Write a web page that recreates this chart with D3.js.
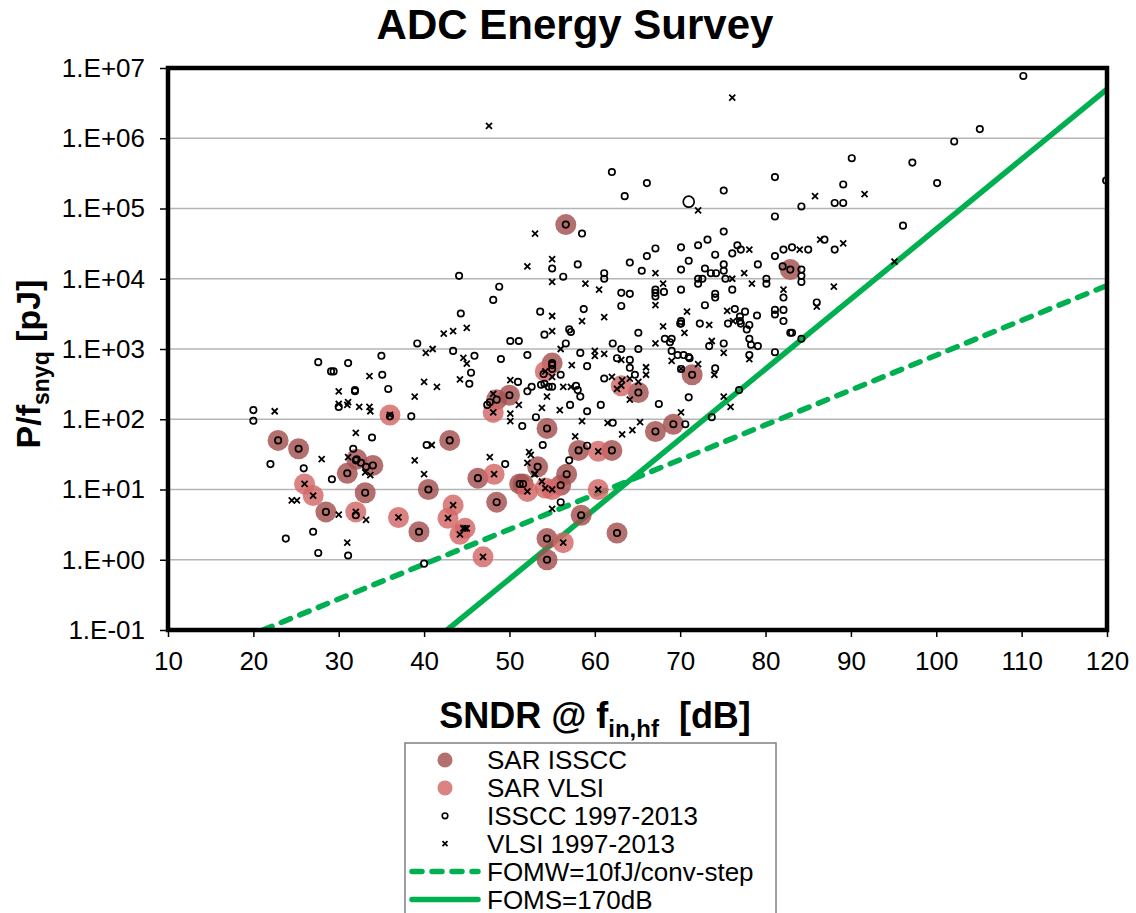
<!DOCTYPE html>
<html lang="en">
<head>
  <meta charset="UTF-8" />
  <title>ADC Energy Survey</title>
  <script src="https://d3js.org/d3.v7.min.js"></script>
  <style>
    body { margin: 0; background: #fff; }
    svg { display: block; font-family: Arial, "Liberation Sans", sans-serif; }
  </style>
</head>
<body>
  <svg id="chart" width="1136" height="913"></svg>

  <script>
    // axis ticks
    const sndrTicks = [10, 20, 30, 40, 50, 60, 70, 80, 90, 100, 110, 120];
    const energyTicks = [1e-1, 1e0, 1e1, 1e2, 1e3, 1e4, 1e5, 1e6, 1e7];
    const energyTickLabels = ["1.E-01", "1.E+00", "1.E+01", "1.E+02", "1.E+03", "1.E+04", "1.E+05", "1.E+06", "1.E+07"];

    // [SNDR dB, P/fsnyq pJ]
    const sarIsscc = [
      [22.9, 50], [25.3, 38], [28.5, 4.8], [31, 17], [32.1, 27], [34, 22], [33.1, 9], [40.5, 10],
      [39.4, 2.5], [43, 50], [46.3, 14.5], [48.5, 6.6], [48.5, 190], [50, 220], [51.2, 12], [51.6, 12],
      [53.3, 21], [54.4, 74], [55, 630], [56.6, 59000], [56.7, 16.5], [56, 11.5], [58.1, 36], [62, 36],
      [58.4, 4.3], [54.4, 2], [54.4, 1], [62.6, 2.4], [65.1, 240], [67.1, 67], [69.2, 85], [71.4, 430],
      [82.9, 13500]
    ];

    const sarVlsi = [
      [36, 115], [26, 12], [27, 8.2], [32, 4.8], [37, 4], [42.8, 3.9], [43.4, 6], [44.2, 2.3],
      [44.8, 2.8], [46.9, 1.1], [48.2, 16.5], [48.1, 125], [52.1, 9.4], [54.2, 10.5], [55, 10],
      [54.2, 480], [60.4, 35], [60.4, 10], [56.3, 1.75], [63.1, 300]
    ];

    const isscc = [
      [20, 135], [20, 95], [22, 23], [25.9, 20], [29.2, 14], [23.8, 2], [27, 2.5], [27.6, 1.25],
      [31.1, 1.15], [32, 4.3], [31.7, 38], [32, 26], [32.6, 24], [33.2, 21], [33.9, 55], [35.8, 270],
      [30, 150], [31.9, 250], [27.6, 650], [29.1, 480], [29.4, 480], [31.1, 630], [35, 800], [35.1, 430],
      [31.9, 260], [38.5, 110], [36, 110], [39.2, 1200], [43.4, 940], [45.9, 800], [45.5, 460], [45.3, 320],
      [44.3, 3200], [40.3, 43], [40, 0.88], [44.1, 11000], [48.8, 7700], [48.1, 5000], [55, 14000],
      [56.3, 10700], [58, 16000], [61.1, 12000], [61.1, 10000], [63.1, 6300], [64.1, 6100], [64.1, 17000],
      [65.5, 13000], [66.1, 21000], [67.1, 27000], [67.1, 7000], [67.1, 6300], [67.1, 5600], [68.1, 6500],
      [70.1, 28000], [70.1, 13500], [70.1, 7000], [71, 18000], [72.1, 30000], [72.1, 10000], [72.1, 8500],
      [72.6, 10000], [72.9, 14000], [73.2, 36000], [73.6, 12000], [74.2, 12000], [74.1, 22000],
      [74.1, 6100], [74.1, 5400], [75.1, 47000], [75.1, 16000], [75.1, 13000], [75.3, 10000],
      [76.1, 23000], [76.7, 30000], [77.1, 26000], [76.1, 7000], [79.1, 16000], [80.1, 10000],
      [80.1, 8500], [81.1, 21000], [82, 15000], [82.1, 26000], [82.1, 5400], [62, 330000],
      [66.1, 230000], [63.5, 150000], [75.1, 180000], [81.1, 280000], [81.1, 77000], [58.5, 44000],
      [110.2, 7700000], [105.1, 1350000], [102.1, 900000], [97.2, 450000], [90.1, 520000],
      [100.1, 230000], [89.1, 220000], [88.1, 120000], [89.1, 120000], [84.2, 107000], [119.9, 250000],
      [96.1, 57000], [86.9, 36000], [88.1, 26000], [83.1, 28000], [85, 26000], [84.2, 13500],
      [84.2, 11000], [84.2, 9000], [82.1, 3600], [82.1, 2500], [86, 4600], [83.1, 1700], [84.2, 1400],
      [53.6, 3400], [58.7, 3700], [63.1, 4100], [72.9, 4200], [70.1, 2500], [70.1, 2300], [72.3, 2300],
      [76.4, 3700], [77.6, 3400], [79, 3000], [75.6, 2300], [77, 2900], [77, 2500], [77.1, 2300],
      [78.1, 2200], [77.8, 1900], [81.1, 3600], [81.1, 3100], [82.9, 1700], [50.1, 1300], [51.1, 1300],
      [49, 720], [52.1, 820], [54.1, 1600], [56.6, 1200], [57, 1900], [57.2, 1750], [58.3, 880],
      [59.1, 570], [62.1, 1200], [63.1, 1000], [65.1, 1700], [65.1, 1000], [68.2, 1400], [69, 1400],
      [68.8, 1250], [70, 2300], [73.4, 1100], [75.1, 1200], [78.1, 1400], [78.3, 1150], [79.1, 1100],
      [81.1, 900], [78.1, 820], [69, 940], [69.7, 820], [70.4, 820], [71, 770], [71.1, 740], [70.1, 520],
      [74.1, 530], [76.9, 260], [73.7, 107], [71, 205], [67.5, 165], [70.6, 85], [62.1, 89], [62.6, 740],
      [64.1, 700], [64.1, 540], [64.7, 430], [61.1, 380], [60.7, 160], [59.1, 130], [57.8, 300], [58, 260],
      [58.3, 210], [57.1, 160], [56, 430], [55, 590], [55, 520], [54, 440], [54.1, 320], [53.7, 310],
      [55, 290], [54.6, 290], [53.1, 107], [53.9, 43], [52.6, 290], [52.1, 250], [51, 340], [51.5, 80],
      [49.5, 23], [59.1, 42], [57, 26], [56, 6.6], [47.4, 160], [47.7, 175]
    ];

    const vlsi = [
      [22.5, 130], [24.5, 7], [25.1, 7], [30, 4.4], [31, 1.75], [33.2, 3.7], [31.1, 29], [33.1, 17.5],
      [33.7, 16], [32, 64], [30, 250], [30, 165], [31.1, 175], [32.4, 150], [33.6, 150], [33.7, 130],
      [31, 160], [33.6, 410], [28, 27], [38.9, 210], [40, 340], [41.5, 290], [42.3, 1650], [43.4, 1800],
      [45, 2000], [40.2, 880], [41, 1000], [44.6, 750], [45, 620], [44.2, 370], [38.9, 26], [40, 16.5],
      [40.9, 43], [47.6, 1500000], [76.1, 3800000], [72.1, 94000], [53, 44000], [52.1, 15000],
      [55, 19000], [55, 9000], [58.9, 8500], [60.5, 7000], [67.1, 12000], [68, 8500], [76.1, 10000],
      [78.1, 26000], [77.5, 12000], [78.4, 8500], [82.1, 7000], [85.8, 150000], [91.6, 160000],
      [86.4, 36000], [89.1, 32000], [84, 26000], [95.1, 17500], [88, 7700], [86, 4000], [55, 2950],
      [58.5, 2500], [61.1, 2850], [67.1, 4200], [70.8, 3400], [73.4, 2200], [75.5, 3500], [76.2, 2500],
      [55, 1800], [56, 1000], [60, 940], [60, 800], [61.1, 850], [67.1, 1200], [68, 2100], [70.5, 1700],
      [73.7, 1300], [75.1, 880], [78.1, 720], [69, 680], [70.1, 520], [72.1, 610], [74, 430], [75.1, 210],
      [75.9, 150], [70.1, 125], [65.3, 91], [64.4, 70], [63.2, 61], [61.5, 89], [62.6, 270], [64.1, 190],
      [62, 400], [63.2, 360], [64.1, 380], [65.1, 340], [66, 550], [66, 430], [63.1, 700], [58.5, 94],
      [57.3, 590], [56.3, 290], [57.2, 290], [55.9, 135], [55, 400], [54.4, 210], [53.8, 145], [52.3, 34],
      [52.5, 31], [52.1, 24], [53, 16.5], [51.1, 160], [50.1, 360], [48.1, 230], [50.1, 120], [50.1, 94],
      [47.7, 29], [52.9, 16.5], [53.8, 13], [55, 5.3], [57.7, 57], [44.6, 2.8], [45, 2.8]
    ];

    const isscchighlight = [[71, 125000]];

    // figure-of-merit reference lines, end points
    const fomwLine = [[21.1, 0.1], [120, 8000]];
    const fomsLine = [[42.7, 0.1], [120, 5000000]];

    const legendNames = ["SAR ISSCC", "SAR VLSI", "ISSCC 1997-2013", "VLSI 1997-2013", "FOMW=10fJ/conv-step", "FOMS=170dB"];

    const darkSar = "#a34f4f";
    const lightSar = "#d36767";
    const green = "#00b050";

    const svg = d3.select("#chart");
    const plot = { left: 168, right: 1107, top: 68, bottom: 630 };

    const x = d3.scaleLinear().domain([10, 120]).range([plot.left, plot.right]);
    const y = d3.scaleLog().domain([0.1, 1e7]).range([plot.bottom, plot.top]);

    svg.append("defs").append("clipPath").attr("id", "clip")
      .append("rect")
      .attr("x", plot.left).attr("y", plot.top)
      .attr("width", plot.right - plot.left).attr("height", plot.bottom - plot.top);

    // gridlines
    svg.append("g").selectAll("line")
      .data(energyTicks.slice(1, -1))
      .join("line")
      .attr("x1", plot.left).attr("x2", plot.right)
      .attr("y1", d => y(d)).attr("y2", d => y(d))
      .attr("stroke", "#b5b5b5")
      .attr("stroke-width", 1.5);

    // axes
    const yAxis = svg.append("g")
      .attr("transform", `translate(${plot.left},0)`)
      .call(d3.axisLeft(y).tickValues(energyTicks).tickFormat((d, i) => energyTickLabels[i]).tickSize(8).tickPadding(15));

    const xAxis = svg.append("g")
      .attr("transform", `translate(0,${plot.bottom})`)
      .call(d3.axisBottom(x).tickValues(sndrTicks).tickFormat(d3.format("d")).tickSize(7).tickPadding(15));

    [yAxis, xAxis].forEach(a => {
      a.select(".domain").remove();
      a.selectAll(".tick line").attr("stroke", "#000").attr("stroke-width", 1.5);
      a.selectAll("text").attr("fill", "#000").style("font-size", "26px").style("font-family", "Arial, 'Liberation Sans', sans-serif");
    });

    const marks = svg.append("g").attr("clip-path", "url(#clip)");

    // reference lines
    const line = d3.line().x(d => x(d[0])).y(d => y(d[1]));
    marks.append("path")
      .attr("d", line(fomwLine))
      .attr("fill", "none").attr("stroke", green).attr("stroke-width", 5.5)
      .attr("stroke-dasharray", "10,10").attr("stroke-linecap", "round");
    marks.append("path")
      .attr("d", line(fomsLine))
      .attr("fill", "none").attr("stroke", green).attr("stroke-width", 5.5);

    // SAR highlight discs
    marks.append("g").selectAll("circle")
      .data(sarIsscc)
      .join("circle")
      .attr("cx", d => x(d[0])).attr("cy", d => y(d[1])).attr("r", 10.5)
      .attr("fill", darkSar).attr("fill-opacity", 0.82);

    marks.append("g").selectAll("circle")
      .data(sarVlsi)
      .join("circle")
      .attr("cx", d => x(d[0])).attr("cy", d => y(d[1])).attr("r", 10.5)
      .attr("fill", lightSar).attr("fill-opacity", 0.82);

    // survey markers (SAR entries are part of the surveys too)
    const crossPath = s => `M${-s},${-s}L${s},${s}M${-s},${s}L${s},${-s}`;

    marks.append("g").selectAll("circle")
      .data(isscc.concat(sarIsscc))
      .join("circle")
      .attr("cx", d => x(d[0])).attr("cy", d => y(d[1])).attr("r", 3.2)
      .attr("fill", "none").attr("stroke", "#000").attr("stroke-width", 1.7);

    marks.append("g").selectAll("circle")
      .data(isscchighlight)
      .join("circle")
      .attr("cx", d => x(d[0])).attr("cy", d => y(d[1])).attr("r", 5.5)
      .attr("fill", "none").attr("stroke", "#000").attr("stroke-width", 1.7);

    marks.append("g").selectAll("path")
      .data(vlsi.concat(sarVlsi))
      .join("path")
      .attr("transform", d => `translate(${x(d[0])},${y(d[1])})`)
      .attr("d", crossPath(3))
      .attr("stroke", "#000").attr("stroke-width", 1.8);

    // plot frame
    svg.append("rect")
      .attr("x", plot.left).attr("y", plot.top)
      .attr("width", plot.right - plot.left).attr("height", plot.bottom - plot.top)
      .attr("fill", "none").attr("stroke", "#000").attr("stroke-width", 4.5);

    // titles
    svg.append("text")
      .attr("x", 575).attr("y", 39)
      .attr("text-anchor", "middle")
      .style("font-size", "42px").style("font-weight", "bold")
      .text("ADC Energy Survey");

    const xt = svg.append("text")
      .attr("x", 595).attr("y", 728)
      .attr("text-anchor", "middle")
      .style("font-size", "36px").style("font-weight", "bold");
    xt.append("tspan").text("SNDR @ f");
    xt.append("tspan").attr("dy", 9).style("font-size", "24px").text("in,hf");
    xt.append("tspan").attr("dy", -9).text("\u00a0 [dB]");

    const yt = svg.append("text")
      .attr("transform", "translate(40,364) rotate(-90)")
      .attr("text-anchor", "middle")
      .style("font-size", "34px").style("font-weight", "bold");
    yt.append("tspan").text("P/f");
    yt.append("tspan").attr("dy", 9).style("font-size", "23px").text("snyq");
    yt.append("tspan").attr("dy", -9).text(" [pJ]");

    // legend
    const legend = svg.append("g");
    legend.append("rect")
      .attr("x", 405).attr("y", 743).attr("width", 371).attr("height", 200)
      .attr("fill", "#fff").attr("stroke", "#808080").attr("stroke-width", 1.5);

    const rowY = i => 760 + i * 27.9;
    const item = legend.selectAll("g.item")
      .data(legendNames)
      .join("g")
      .attr("class", "item")
      .attr("transform", (d, i) => `translate(0,${rowY(i)})`);

    item.append("text")
      .attr("x", 487).attr("y", 9)
      .style("font-size", "26px")
      .text(d => d);

    item.each(function(d, i) {
      const g = d3.select(this);
      if (i === 0 || i === 1) {
        g.append("circle").attr("cx", 445).attr("r", 7.5)
          .attr("fill", i === 0 ? darkSar : lightSar).attr("fill-opacity", 0.82);
      } else if (i === 2) {
        g.append("circle").attr("cx", 445).attr("r", 2.8)
          .attr("fill", "none").attr("stroke", "#000").attr("stroke-width", 1.6);
      } else if (i === 3) {
        g.append("path").attr("transform", "translate(445,0)").attr("d", crossPath(2.5))
          .attr("stroke", "#000").attr("stroke-width", 1.7);
      } else {
        g.append("line").attr("x1", 412).attr("x2", 478)
          .attr("stroke", green).attr("stroke-width", 5.5)
          .attr("stroke-linecap", "round")
          .attr("stroke-dasharray", i === 4 ? "10,10" : null);
      }
    });
  </script>
</body>
</html>
